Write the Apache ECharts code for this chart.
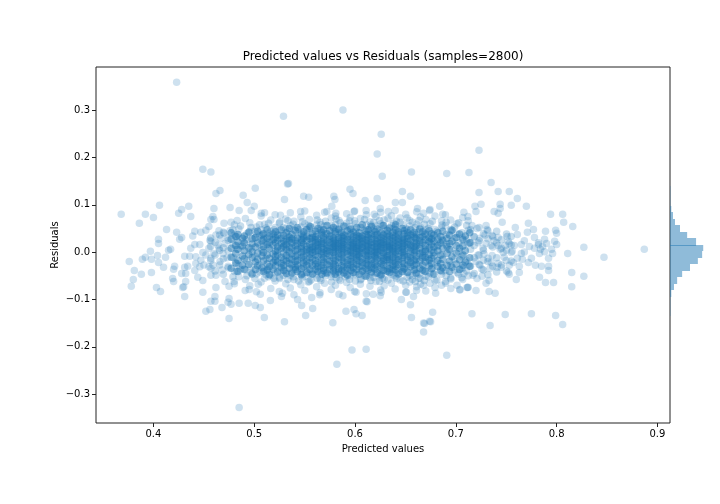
<!DOCTYPE html>
<html><head><meta charset="utf-8">
<style>html,body{margin:0;background:#fff}#c{width:720px;height:504px}</style>
<script src="https://cdn.jsdelivr.net/npm/echarts@6/dist/echarts.min.js"></script></head>
<body><div id="c"></div><script>
const xTicks=[.4,.5,.6,.7,.8,.9];
const yTicks=[-.3,-.2,-.1,0,.1,.2,.3];
// Individually readable points (predicted, residual)
const sparsePoints=[[.423,.359],[.485,-.328],[.529,.287],[.588,.3],[.626,.249],[.622,.207],[.723,.215],[.582,-.237],[.597,-.207],[.611,-.205],[.691,-.218],[.668,-.169],[.668,-.15],[.674,-.146],
[.368,.08],[.392,.08],[.4,.073],[.386,.061],[.406,.099],[.425,.082],[.428,.09],[.435,.097],[.437,.075],[.413,.048],[.423,.042],[.405,.027],[.405,.018],[.426,.027],[.428,.031],[.439,.034],[.441,.044],[.447,.042],[.452,.046],[.455,.054],[.459,.075],[.457,.069],[.46,.069],[.46,.092],[.476,.094],[.485,.088],[.489,.12],[.493,.105],[.5,.097],[.497,.088],[.462,.124],[.466,.13],[.501,.135],[.457,.169],[.449,.175],[.507,.082],[.47,.061],[.477,.063],[.483,.067],
[.397,.002],[.392,-.011],[.389,-.015],[.404,-.007],[.398,-.015],[.376,-.02],[.405,-.022],[.412,-.011],[.415,.004],[.417,.006],[.41,-.032],[.381,-.039],[.388,-.047],[.398,-.043],[.38,-.058],[.378,-.072],[.403,-.075],[.407,-.083],[.419,-.056],[.42,-.062],[.421,-.03],[.42,-.036],[.43,-.073],[.429,-.075],[.431,-.094],[.431,-.009],[.436,-.009],[.437,.008],[.441,.016],[.446,.016],[.449,-.001],[.455,.008],[.457,.023],[.456,.025],[.432,-.062],[.428,-.045],[.432,-.045],[.431,-.032],[.434,-.03],[.441,-.039],[.444,-.053],[.449,-.06],[.449,-.085],[.462,-.075],[.461,-.094],[.457,-.104],[.461,-.104],[.452,-.125],[.456,-.121],[.468,-.117],[.475,-.098],[.474,-.106],[.477,-.11],[.485,-.108],[.494,-.108],[.501,-.113],[.506,-.117],[.51,-.138],[.475,-.14],[.516,-.102],[.53,-.147],[.527,-.094],[.506,-.089],[.495,-.079],[.491,-.081],[.504,-.068],[.48,-.062],[.475,-.072],[.471,-.062],[.462,-.049],[.457,-.049],
[.442,-.024],[.446,-.031],[.455,-.031],[.459,-.027],[.457,-.034],[.45,-.027],[.447,-.017],[.442,-.01],[.452,-.006],[.457,-.013],[.46,-.003],[.465,.008],[.469,-.003],[.464,.015],[.467,.029],[.47,.04],[.462,.036],[.466,-.02],[.471,.018],[.474,.03],[.473,-.012],[.468,-.038],[.476,.045],[.474,-.03],[.465,.045],
[.713,.168],[.735,.147],[.723,.126],[.742,.128],[.753,.128],[.761,.113],[.719,.097],[.725,.101],[.744,.101],[.744,.092],[.755,.099],[.77,.097],[.708,.084],[.712,.075],[.72,.086],[.738,.086],[.742,.082],[.794,.08],[.806,.08],[.807,.063],[.816,.054],[.746,.063],[.772,.061],[.759,.052],[.777,.048],[.771,.042],[.789,.044],[.799,.046],[.8,.04],[.716,.056],[.73,.056],[.731,.048],[.721,.05],[.751,.033],[.761,.037],[.736,.035],[.742,.031],[.724,.029],[.778,.031],[.788,.027],[.798,.023],[.827,.01],[.8,.016],[.782,.016],[.773,.012],[.765,.016],[.758,.014],[.752,.023],[.749,.014],[.753,.018],[.735,.014],[.727,.008],[.712,.018],[.887,.006],[.847,-.011],[.811,-.003],[.796,-.003],[.795,.006],[.792,-.013],[.788,.001],[.783,-.003],[.778,.008],[.768,0],[.765,-.003],[.755,-.001],[.747,-.001],[.748,-.011],[.736,-.007],[.732,-.013],[.775,-.013],[.766,-.015],[.761,-.013],[.757,-.022],[.753,-.028],[.742,-.024],[.741,-.032],[.745,-.032],[.734,-.034],[.724,-.028],[.763,-.03],[.779,-.028],[.785,-.03],[.792,-.03],[.792,-.039],[.815,-.043],[.827,-.051],[.815,-.073],[.797,-.064],[.789,-.064],[.783,-.053],[.763,-.043],[.752,-.043],[.753,-.047],[.76,-.058],[.733,-.06],[.73,-.066],[.726,-.051],[.721,-.056],[.717,-.049],[.708,-.045],[.72,-.081],[.712,-.075],[.712,-.074],[.704,-.079],[.733,-.083],[.739,-.087],[.716,-.13],[.749,-.132],[.775,-.13],[.799,-.134],[.806,-.153],[.734,-.155],
[.782,.02],[.786,.012],[.79,.018],[.784,.006],[.742,.014],[.738,.024],[.729,.036],[.722,.02],[.728,-.004],[.72,-.02],[.726,-.036],[.73,.018],[.718,.032],[.722,-.006],[.735,-.022],[.744,.006],[.75,-.018],[.768,.024],[.772,-.022],[.756,.002],
[.627,.16],[.656,.169],[.691,.166],[.533,.144],[.534,.145],[.595,.133],[.598,.124],[.549,.118],[.554,.116],[.579,.118],[.58,.111],[.53,.111],[.61,.109],[.622,.113],[.647,.128],[.655,.118],[.64,.105],[.647,.105],[.577,.097],[.572,.086],[.581,.082],[.599,.086],[.611,.088],[.625,.092],[.633,.086],[.662,.092],[.684,.097],[.674,.088],[.546,.086],[.687,.08],[.619,.08],[.668,.082],[.526,.078],
[.578,-.149],[.669,-.151],[.675,-.147],[.677,-.127],[.656,-.138],[.655,-.111],[.646,-.1],[.651,-.085],[.658,-.094],[.68,-.087],[.607,-.134],[.601,-.13],[.599,-.121],[.591,-.125],[.611,-.104],[.612,-.105],[.558,-.119],[.551,-.134],[.547,-.113],[.543,-.1],[.528,-.087],[.565,-.09],[.588,-.092],[.557,-.096],[.601,-.085],[.618,-.089],[.625,-.092],[.626,-.085],[.704,-.08],[.711,-.075],[.695,-.077],[.69,-.066],[.668,-.07],[.661,-.081]];
// Fuzzy band just outside the solid core
const edgePredicted=[.4803,.4847,.4912,.4956,.5021,.5068,.5102,.5164,.5207,.5249,.5313,.5358,.5394,.5462,.5501,.5547,.5619,.5653,.5698,.5764,.5806,.5841,.5917,.5952,.5996,.6053,.6112,.6148,.6207,.6254,.6289,.6361,.6398,.6447,.6503,.6542,.6611,.6649,.6702,.6744,.6793,.6858,.6897,.6949,.7012,.7068,.7123];
const edgeResiduals=[[.058,.036,-.041,-.067],[.049,-.052,-.029],[.071,.026,-.058,-.038],[.044,.062,-.071],[.053,-.046,-.084,.039],[.076,.047,-.063],[.059,-.039,-.055,.083],[.068,.044,-.077,-.049],[.052,.079,-.044,-.061],[.061,.046,-.083,-.053],[.07,.05,-.067,-.042],[.056,.083,-.049,-.076],[.047,.065,-.058,-.09],[.074,.053,-.046,-.069],[.06,.087,-.081,-.051],[.05,.069,-.062,-.044],[.078,.057,-.048,-.073],[.063,.048,-.086,-.056],[.084,.055,-.066,-.045],[.072,.049,-.052,-.079],[.058,.076,-.07,-.043],[.05,.067,-.089,-.057],[.081,.061,-.047,-.064],[.054,.073,-.075,-.05],[.066,.087,-.044,-.083],[.052,.071,-.059,-.068],[.079,.058,-.048,-.088],[.049,.064,-.072,-.054],[.075,.055,-.062,-.045],[.06,.084,-.08,-.05],[.068,.051,-.057,-.071],[.077,.056,-.046,-.066],[.053,.088,-.078,-.052],[.063,.072,-.059,-.044],[.05,.08,-.07,-.085],[.067,.055,-.049,-.063],[.085,.059,-.073,-.046],[.052,.074,-.055,-.068],[.069,.047,-.082,-.051],[.06,.09,-.044,-.066],[.048,.076,-.06,-.075],[.066,.052,-.047,-.07],[.079,.056,-.039,-.062],[.044,.068,-.054],[.06,.038,-.07,-.043],[.073,.03,-.034,-.058],[.046,.066,-.05,-.026]];
// Second translucent layer filling the band between core and edge
const midPredicted=[.4568,.4612,.4657,.4693,.4741,.4789,.4826,.4864,.4927,.4968,.5006,.5053,.5117,.5142,.5196,.5253,.5289,.5334,.5386,.5441,.5478,.5536,.5563,.5624,.5661,.5707,.5768,.5812,.5853,.5902,.5946,.6003,.6061,.6094,.6157,.6186,.6243,.6271,.6327,.6384,.6412,.6478,.6516,.6569,.6598,.6634,.6687,.6728,.6767,.6812,.6863,.6904,.6951,.6988,.7028,.7059,.7107,.7146,.7182,.7231,.7274,.7318,.7366,.7405,.7452,.7503,.7549];
const midResiduals=[[.012,-.018,.03],[-.006,.021,-.04],[.036,.004,-.027],[-.014,.042,.009,-.047],[.025,-.033,.003],[.048,-.011,-.052,.017],[.033,-.024,-.04,.006],[.055,.014,-.037],[-.019,.039,-.05,.026],[.008,.052,-.032,-.043],[.044,-.009,.029,-.056],[.034,-.042,.058,.015,-.027],[-.048,.021,.051,-.014],[.04,-.035,.061,.009,-.052],[.028,-.055,.047,-.02],[.063,-.04,.035,-.056],[.052,-.031,.012,-.049],[.044,-.058,.066,.024],[.059,-.037,-.052,.031],[.048,-.061,.038,-.029],[.064,.025,-.045,-.054],[.041,.056,-.036,-.063],[.053,-.048,.03,-.059],[.068,.037,-.04,-.055],[.046,-.06,.058,-.033],[.039,.065,-.05,-.042],[.056,.034,-.063,-.047],[.049,-.038,.07,-.054],[.062,.042,-.046,-.06],[.035,.054,-.052,-.039],[.066,.047,-.058,-.035],[.043,-.061,.06,-.048],[.052,.031,-.042,-.057],[.069,.046,-.05,-.037],[.038,.057,-.06,-.045],[.063,.049,-.034,-.053],[.045,.067,-.047,-.062],[.056,.036,-.055,-.04],[.071,.044,-.038,-.059],[.05,.061,-.049,-.033],[.04,.065,-.056,-.044],[.058,.033,-.061,-.036],[.047,.072,-.042,-.053],[.063,.038,-.05,-.058],[.052,.03,-.037,-.062],[.067,.043,-.055,-.046],[.036,.059,-.04,-.06],[.05,.024,-.052,-.013],[.065,.03,-.033,-.047],[.044,.012,-.059,-.022],[.057,.026,-.041,-.006],[.037,.063,-.05,.016],[.048,.005,-.028,-.057],[.029,.053,-.038,-.015],[.062,.019,-.046,.001],[.041,-.009,-.033,-.054],[.026,.056,-.018,-.04],[.047,.006,-.03,.02],[.033,-.012,-.045,.014],[.052,.024,-.026,-.006],[.039,.004,-.038,-.017],[.028,-.02,.045,-.048],[.011,.033,-.03],[.044,-.012,.02,-.042],[.026,-.027,.008],[.038,.004,-.04],[.015,-.019,.033]];
// Solid core of the cloud, estimated column by column
const corePredicted=[.4771,.4816,.4838,.4883,.4902,.4946,.4979,.5012,.5034,.5077,.5091,.5128,.5151,.5187,.5211,.5232,.5268,.5294,.5318,.5347,.5373,.5409,.5427,.5468,.5489,.5521,.5553,.5578,.5609,.5632,.5671,.5688,.5722,.5749,.5786,.5803,.5837,.5868,.5889,.5924,.5958,.5983,.6017,.6041,.6072,.6109,.6131,.6163,.6198,.6219,.6258,.6282,.6319,.6342,.6376,.6403,.6431,.6469,.6487,.6524,.6552,.6587,.6606,.6643,.6671,.6698,.6736,.6759,.6783,.6822,.6849,.6871,.6913,.6938,.6962,.7004,.7037,.7071,.7094,.7138];
const coreResiduals=[
[.027,-.011,.008,-.034,.041],[.014,-.023,.033,-.003],[.022,-.041,.006,-.017,.037],[-.008,.029,-.028,.013],[.034,.003,-.036,-.014,.019],[.009,-.026,.042,-.005],[.017,-.046,.028,-.012,.001],[.031,-.021,.011,-.037],[-.002,.044,-.029,.019,-.015],[.024,-.008,.036,-.033,.005],
[.012,-.019,.039,-.041,.027,-.001],[-.025,.016,.047,-.006,-.038,.03],[.007,-.031,.021,-.013,.034,-.048],[.038,-.004,-.022,.015,.026,-.036],[-.017,.043,.002,-.029,.019,-.009,.031],[.011,-.042,.025,-.006,.036,-.021,.004],[-.033,.018,-.011,.047,.008,-.024,.029],[.022,-.002,-.039,.013,.035,-.016,-.028],[.041,.006,-.019,.027,-.045,.016,-.007],[-.013,.032,.01,-.034,.024,.001,-.024,.05],
[.019,-.027,.037,-.004,.009,-.044,.028,-.015],[-.009,.045,.014,-.032,.003,.024,-.02,-.037],[.03,-.017,.006,.052,-.041,.018,-.006,-.026],[.012,-.035,.026,-.001,.038,-.012,-.048,.007,.021],[-.023,.017,.043,-.008,.029,-.031,.002,-.016,.034],[.005,.048,-.019,.024,-.043,.012,-.003,-.028,.033],[-.012,.028,.003,-.037,.016,.054,-.022,.009,-.005],[.039,-.029,.011,-.014,.023,-.001,-.046,.031,.006],[-.006,.019,-.025,.044,.002,-.018,.033,-.036,.012,.026],[.008,-.041,.028,-.009,.015,.05,-.023,.004,-.031,.021],
[-.016,.036,.001,-.028,.022,.01,-.005,-.047,.042,.017],[.027,-.012,.047,-.034,.006,.018,-.021,-.002,.032,-.039],[-.003,.014,-.026,.039,.024,-.044,.008,.056,-.015,.003],[.02,-.037,.011,-.007,.034,-.019,.027,.001,-.029,.045],[-.024,.006,.052,-.013,.017,-.04,.03,-.001,.011,-.032,.023],[.009,-.018,.038,.002,-.047,.025,-.008,.014,-.027,.043,.019],[-.011,.031,-.035,.018,.005,.048,-.022,-.003,.027,.012,-.042],[.024,-.006,.013,-.029,.041,.003,-.015,.033,-.038,.008,.019],[-.001,.055,-.021,.016,-.044,.029,.007,-.012,.036,-.031,.022],[.015,-.034,.026,-.004,.045,-.018,.01,.002,-.026,.032,-.049],
[-.014,.021,.038,-.028,.004,-.007,.049,.013,-.039,.027,.001,-.02],[.033,-.01,.018,-.043,.007,.025,-.024,.042,-.002,.011,-.033,.016],[-.005,.029,-.017,.052,.012,-.036,.021,.003,-.026,.036,-.012,.008],[.019,-.031,.006,.041,-.009,.027,-.047,.014,-.019,.001,.033,-.004],[-.022,.011,.034,-.002,.023,-.04,.058,.008,-.014,.017,-.029,.028],[.004,.044,-.015,.026,-.034,.013,-.007,.037,.001,-.024,.02,-.051],[-.009,.016,.031,-.038,.024,.005,-.019,.047,-.003,.012,-.028,.036],[.028,-.025,.009,.015,-.006,.039,-.042,.021,.002,-.016,.054,-.033],[-.012,.035,.003,-.021,.018,.026,-.036,.011,-.001,.043,-.008,-.027],[.017,-.044,.029,.006,-.014,.037,.022,-.03,.001,.012,-.005,.049],
[-.019,.024,.041,-.008,.013,-.033,.031,.004,-.024,.019,-.048,.009],[.036,-.003,.016,-.027,.056,.008,-.013,.027,-.039,.021,-.001,-.018],[-.007,.032,.011,-.041,.023,-.016,.046,.002,-.029,.015,.038,-.011],[.026,-.022,.005,.018,-.035,.034,-.006,.012,.051,-.015,-.043,.009],[-.002,.042,-.028,.014,.029,-.011,.003,-.037,.021,.007,-.019,.035],[.018,-.038,.025,-.005,.047,.011,-.023,.033,-.014,.001,.058,-.03],[-.016,.008,.037,-.046,.022,.003,-.009,.028,-.026,.015,.043],[.03,-.012,.017,-.032,.006,.05,-.02,.024,-.001,-.041,.011],[-.007,.039,.013,-.024,.027,-.004,.019,-.035,.045,.002],[.022,-.017,.034,-.043,.008,.016,-.01,.029,-.027,.041],
[-.013,.025,.002,.047,-.031,.015,-.006,.036,-.022,.009],[.032,-.038,.012,-.002,.021,-.018,.042,.005,-.028],[-.009,.018,.037,-.025,.028,-.044,.003,.013,-.015],[.024,-.003,.049,-.034,.008,-.019,.031,.016],[-.012,.033,.001,-.027,.02,.043,-.007,-.038],[.014,-.021,.038,.006,-.041,.026,-.011,.002],[-.029,.022,.009,.045,-.005,.031,-.017],[.017,-.035,.028,.004,-.013,.039,-.024],[.036,-.008,.011,-.046,.023,-.001],[-.018,.027,.003,.041,-.031,.014],
[.019,-.024,.033,-.006,-.039],[.008,.044,-.015,.024,-.033],[-.003,.029,-.028,.012],[.036,-.019,.005,-.041,.018],[-.01,.023,.046,-.032],[.014,-.025,.031,-.002],[-.016,.008,.038,-.037],[.026,-.006,-.028,.013],[.003,.034,-.021],[-.012,.02,.041,-.03]];
// Right-hand residual histogram: bin edges and counts
const histEdges=[-.1356,-.1219,-.1082,-.0944,-.0807,-.0669,-.0532,-.0395,-.0257,-.012,.0018,.0155,.0292,.043,.0567,.0705,.0842,.0979,.1117,.1254,.1392];
const histCount=[5,5,5,18,56,100,170,280,390,450,465,365,240,140,70,42,18,5,5,5];
const histSeamLow=[.0150];
const histSeamHigh=[.0160];
const histSeamCount=[365];

const columns=(xs,rows)=>xs.flatMap((x,i)=>rows[i].map(r=>[x,r]));
const coreData=columns(corePredicted,coreResiduals);
const midData=columns(midPredicted,midResiduals);
const edgeData=columns(edgePredicted,edgeResiduals);
const histData=histCount.map((c,i)=>[histEdges[i],histEdges[i+1],c]).concat(histSeamCount.map((c,i)=>[histSeamLow[i],histSeamHigh[i],c]));
const blue='#1f77b4';
const X={min:.343,max:.9125}, Y={min:-.361,max:.391};
const label=v=>v.toFixed(1).replace('-','\u2212');
const hiddenLine={show:true,onZero:false,lineStyle:{opacity:0}};
const chart=echarts.init(document.getElementById('c'),null,{renderer:'canvas'});
const dot=(data,opacity,z)=>({type:'scatter',data,symbolSize:7.5,silent:true,itemStyle:{color:blue,opacity},z});
chart.setOption({
 animation:false,backgroundColor:'#fff',
 textStyle:{fontFamily:'DejaVu Sans'},
 title:{text:'Predicted values vs Residuals (samples=2800)',left:378,top:46,textAlign:'center',textStyle:{fontFamily:'DejaVu Sans',fontSize:12,fontWeight:'normal',color:'#000'}},
 grid:[{left:96,top:67,width:574,height:356,show:true,borderColor:'#222',borderWidth:1,backgroundColor:'#fff'},
       {left:670,top:67,width:50,height:356,show:false}],
 xAxis:[{type:'value',gridIndex:0,min:X.min,max:X.max,name:'Predicted values',nameLocation:'middle',nameGap:21,nameMoveOverlap:false,
   nameTextStyle:{fontSize:10,color:'#000',fontFamily:'DejaVu Sans'},
   axisLine:hiddenLine,splitLine:{show:false},
   axisTick:{show:true,length:4,customValues:xTicks,lineStyle:{color:'#222',opacity:1}},
   axisLabel:{customValues:xTicks,formatter:label,fontSize:10,color:'#000',margin:6}},
  {type:'value',gridIndex:1,min:0,max:700,show:false}],
 yAxis:[{type:'value',gridIndex:0,min:Y.min,max:Y.max,name:'Residuals',nameLocation:'middle',nameGap:36,nameMoveOverlap:false,
   nameTextStyle:{fontSize:10,color:'#000',fontFamily:'DejaVu Sans'},
   axisLine:hiddenLine,splitLine:{show:false},
   axisTick:{show:true,length:4,customValues:yTicks,lineStyle:{color:'#222',opacity:1}},
   axisLabel:{customValues:yTicks,formatter:label,fontSize:10,color:'#000',margin:6}},
  {type:'value',gridIndex:1,min:Y.min,max:Y.max,show:false}],
 series:[
  dot(coreData,.5,2),dot(midData,.25,3),dot(edgeData,.22,3),dot(sparsePoints,.22,3),
  {type:'custom',xAxisIndex:1,yAxisIndex:1,data:histData,silent:true,z:5,
   renderItem:(p,api)=>{
     const a=api.coord([0,api.value(1)]), b=api.coord([api.value(2),api.value(0)]);
     const top=Math.round(a[1]), bottom=Math.round(b[1]);
     return {type:'rect',shape:{x:a[0],y:top,width:b[0]-a[0],height:Math.max(1,bottom-top)},style:{fill:blue,opacity:.5}};
   }}
 ]
});
</script></body></html>
